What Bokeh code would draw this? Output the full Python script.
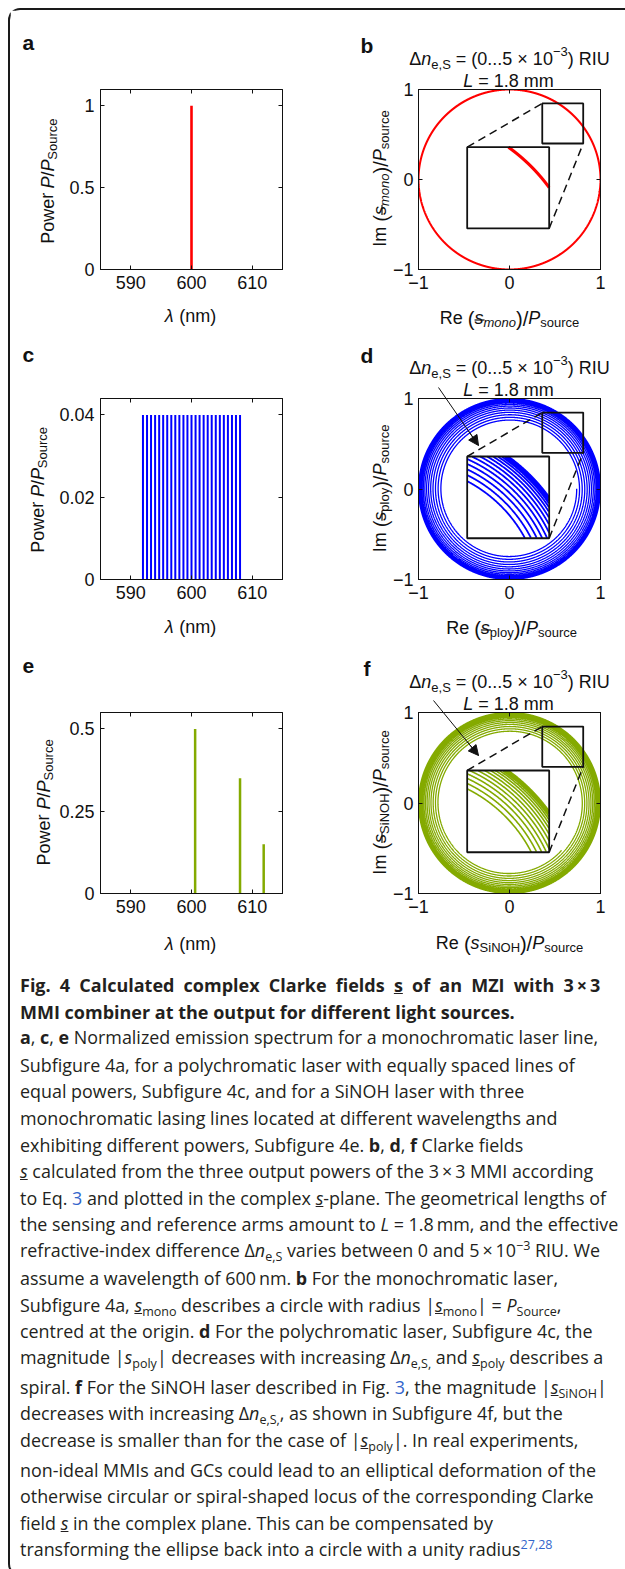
import numpy as np
from bokeh.plotting import figure
from bokeh.models import FixedTicker, LinearAxis, Arrow, NormalHead, Div, ColumnDataSource
from bokeh.core.properties import value
from bokeh.layouts import column, row
from bokeh.embed import file_html
from bokeh.resources import INLINE

# ---------------- values ----------------
lam_mono = [600.0]
pow_mono = [1.0]
lam_poly = [592.0, 592.67, 593.33, 594.0, 594.67, 595.33, 596.0, 596.67, 597.33,
            598.0, 598.67, 599.33, 600.0, 600.67, 601.33, 602.0, 602.67, 603.33,
            604.0, 604.67, 605.33, 606.0, 606.67, 607.33, 608.0]
pow_poly = [0.04, 0.04, 0.04, 0.04, 0.04, 0.04, 0.04, 0.04, 0.04, 0.04, 0.04, 0.04, 0.04,
            0.04, 0.04, 0.04, 0.04, 0.04, 0.04, 0.04, 0.04, 0.04, 0.04, 0.04, 0.04]
lam_sinoh = [600.6, 608.0, 611.9]
pow_sinoh = [0.50, 0.35, 0.15]
arm_length_mm = 1.8          # L
dn_eS = [0.0, 5e-3]          # effective index difference range (RIU)

spec_x_ticks = [590, 600, 610]
spec_x_labels = ["590", "600", "610"]
a_y_ticks = [0, 0.5, 1]
a_y_labels = ["0", "0.5", "1"]
c_y_ticks = [0, 0.02, 0.04]
c_y_labels = ["0", "0.02", "0.04"]
e_y_ticks = [0, 0.25, 0.5]
e_y_labels = ["0", "0.25", "0.5"]
cl_ticks = [-1, 0, 1]
cl_labels = ["\u22121", "0", "1"]

spec_x_range = (585, 615)
a_y_range = (0, 1.1)
c_y_range = (0, 0.044)
e_y_range = (0, 0.55)
cl_range = (-1, 1)

# zoom-inset geometry in the complex plane
zoom_box = (0.36, 0.81, 0.40, 0.845)
zoom_src = (0.36, 0.81, 0.36, 0.81)
inset_box = (-0.465, 0.436, -0.544, 0.359)

RED, BLUE, GREEN = "#ff0000", "#0000ff", "#84aa00"
INK = "#111111"
FONT = "Liberation Sans"
FS = 18

W = {' ': .278, '(': .333, ')': .333, ',': .278, '-': .333, '.': .278, '/': .278, '=': .584,
     '\u00d7': .584, '\u2212': .584, '\u0394': .668, '\u03bb': .52}
for ch in "0123456789":
    W[ch] = .556
W.update(dict(A=.667, B=.667, C=.722, D=.722, E=.667, F=.611, G=.778, H=.722, I=.278, J=.5, K=.667,
              L=.556, M=.833, N=.722, O=.778, P=.667, Q=.778, R=.722, S=.667, T=.611, U=.722, V=.667,
              W=.944, X=.667, Y=.667, Z=.611, a=.556, b=.556, c=.5, d=.556, e=.556, f=.278, g=.556,
              h=.556, i=.222, j=.222, k=.5, l=.222, m=.833, n=.556, o=.556, p=.556, q=.556, r=.333,
              s=.5, t=.278, u=.556, v=.5, w=.722, x=.5, y=.5, z=.5))


def tw(s, size):
    return sum(W.get(ch, .556) for ch in s) * size


class Panel:
    def __init__(self, ox, oy, w, h, L, T, R, B, xr, yr):
        self.L, self.T, self.R, self.B = L, T, R, B
        self.xr, self.yr = xr, yr
        self.p = figure(width=w, height=h, x_range=xr, y_range=yr, output_backend="svg",
                        toolbar_location=None, min_border_left=L - ox, min_border_right=ox + w - R,
                        min_border_top=T - oy, min_border_bottom=oy + h - B)
        self.ul = ([], [], [], [])
        self.tx = dict(x=[], y=[], text=[], angle=[], size=[], style=[])

    def X(self, px):
        return self.xr[0] + (px - self.L) / (self.R - self.L) * (self.xr[1] - self.xr[0])

    def Y(self, py):
        return self.yr[1] - (py - self.T) / (self.B - self.T) * (self.yr[1] - self.yr[0])

    def label(self, px, py, text, size=FS, style="normal", angle=0.0):
        t = self.tx
        t["x"].append(self.X(px)); t["y"].append(self.Y(py)); t["text"].append(text)
        t["angle"].append(angle); t["size"].append(f"{size:.1f}px"); t["style"].append(style)

    def rich(self, pieces, c, base, rotated=False, size=FS):
        widths = [tw(t, size * sc) for (t, st, sc, sh, ul) in pieces]
        pos = -sum(widths) / 2
        for (t, st, sc, sh, ul), w in zip(pieces, widths):
            lead = len(t) - len(t.lstrip(" "))
            start = pos + tw(" " * lead, size * sc)
            body = t.strip(" ")
            bw = tw(body, size * sc)
            if rotated:
                px, py, ang = base + sh, c - start, np.pi / 2
            else:
                px, py, ang = c + start, base + sh, 0.0
            self.label(px, py, body, size * sc, st, ang)
            if ul:
                if rotated:
                    seg = (px + 2.5, py, px + 2.5, py - bw - 1)
                else:
                    seg = (px, py + 2.5, px + bw + 1, py + 2.5)
                self.ul[0].append(self.X(seg[0])); self.ul[1].append(self.Y(seg[1]))
                self.ul[2].append(self.X(seg[2])); self.ul[3].append(self.Y(seg[3]))
            pos += w

    def finish(self):
        if self.ul[0]:
            self.p.segment(x0=self.ul[0], y0=self.ul[1], x1=self.ul[2], y1=self.ul[3],
                           line_color=INK, line_width=1.2, level="overlay")
        src = ColumnDataSource(self.tx)
        self.p.text(x="x", y="y", text="text", angle="angle", text_font_size="size",
                    text_font_style="style", text_font=value(FONT), text_color=INK,
                    text_align="left", text_baseline="alphabetic", source=src, level="overlay")


def axis_common(ax):
    ax.major_tick_in = 4
    ax.major_tick_out = 0
    ax.minor_tick_line_color = None
    ax.axis_line_color = INK
    ax.major_tick_line_color = INK
    ax.major_label_text_font = FONT
    ax.major_label_text_font_size = f"{FS}px"
    ax.major_label_text_color = INK
    ax.major_label_standoff = 6


def style(P, xt, xl, yt, yl):
    p = P.p
    p.xgrid.visible = False
    p.ygrid.visible = False
    p.outline_line_color = INK
    p.background_fill_color = "white"
    p.border_fill_color = "white"
    p.xaxis.ticker = FixedTicker(ticks=xt)
    p.xaxis.major_label_overrides = dict(zip(xt, xl))
    p.yaxis.ticker = FixedTicker(ticks=yt)
    p.yaxis.major_label_overrides = dict(zip(yt, yl))
    axis_common(p.xaxis[0])
    axis_common(p.yaxis[0])
    for ticks, side in ((xt, "above"), (yt, "right")):
        ax = LinearAxis(ticker=FixedTicker(ticks=ticks))
        axis_common(ax)
        ax.major_label_text_color = None
        ax.major_label_text_font_size = "1px"
        ax.major_label_standoff = 0
        p.add_layout(ax, side)


def clarke(lams, pows, n=20000):
    dn = np.linspace(dn_eS[0], dn_eS[1], n)
    L_nm = arm_length_mm * 1e6
    s = np.zeros(n, dtype=complex)
    for lam, pw in zip(lams, pows):
        s += pw * np.exp(1j * 2 * np.pi * L_nm * dn / lam)
    return s / np.sum(pows)


def magnify(s):
    x, y = s.real, s.imag
    inside = (x >= zoom_src[0]) & (x <= zoom_src[1]) & (y >= zoom_src[2]) & (y <= zoom_src[3])
    idx = np.where(inside)[0]
    kx = (inset_box[1] - inset_box[0]) / (zoom_src[1] - zoom_src[0])
    ky = (inset_box[3] - inset_box[2]) / (zoom_src[3] - zoom_src[2])
    X = inset_box[0] + (x[idx] - zoom_src[0]) * kx
    Y = inset_box[2] + (y[idx] - zoom_src[2]) * ky
    br = np.where(np.diff(idx) > 1)[0] + 1
    return np.insert(X, br, np.nan), np.insert(Y, br, np.nan)


def spectrum_panel(P, lams, pows, color, lw, yt, yl, letter, lx, lby, ylab_x, ylab_c, xlab_b):
    P.p.segment(x0=lams, y0=[0] * len(lams), x1=lams, y1=pows, line_color=color, line_width=lw)
    style(P, spec_x_ticks, spec_x_labels, yt, yl)
    P.label(lx, lby, letter, 21, "bold")
    P.rich([("Power ", "normal", 1, 0, 0), ("P", "italic", 1, 0, 0), ("/", "normal", 1, 0, 0),
            ("P", "italic", 1, 0, 0), ("Source", "normal", .72, 5, 0)], ylab_c, ylab_x, rotated=True)
    P.rich([("\u03bb", "italic", 1, 0, 0), (" (nm)", "normal", 1, 0, 0)], 190, xlab_b)
    P.finish()


def clarke_panel(P, s, color, lw_main, lw_inset, letter, lx, lby, sub, sub_style, ylab_c, xlab_c,
                 xlab_b, x_ul, arrow=None):
    p = P.p
    p.line(s.real, s.imag, line_color=color, line_width=lw_main)
    zb, ib = zoom_box, inset_box
    p.quad(left=[zb[0]], right=[zb[1]], bottom=[zb[2]], top=[zb[3]], fill_color=None,
           line_color=INK, line_width=1.8)
    p.quad(left=[ib[0]], right=[ib[1]], bottom=[ib[2]], top=[ib[3]], fill_color="white",
           line_color=None)
    xi, yi = magnify(s)
    p.line(xi, yi, line_color=color, line_width=lw_inset)
    p.quad(left=[ib[0]], right=[ib[1]], bottom=[ib[2]], top=[ib[3]], fill_color=None,
           line_color=INK, line_width=1.8)
    p.segment(x0=[ib[0], ib[1]], y0=[ib[3], ib[2]], x1=[zb[0], zb[1]], y1=[zb[3], zb[2]],
              line_color=INK, line_width=1.5, line_dash="8 5")
    style(P, cl_ticks, cl_labels, cl_ticks, cl_labels)
    P.p.yaxis[0].major_label_standoff = 5
    P.label(lx, lby, letter, 21, "bold")
    P.rich([("\u0394", "normal", 1, 0, 0), ("n", "italic", 1, 0, 0), ("e,S", "normal", .72, 5, 0),
            (" = (0...5 \u00d7 10", "normal", 1, 0, 0), ("\u22123", "normal", .72, -7.5, 0),
            (") RIU", "normal", 1, 0, 0)], 509, P.T - 30.5)
    P.rich([("L", "italic", 1, 0, 0), (" = 1.8 mm", "normal", 1, 0, 0)], 508, P.T - 8.5)

    def lab(prefix, ul):
        return [(prefix + " ", "normal", 1, 0, 0), ("(", "normal", 1.12, 1.5, 0),
                ("s", "italic", 1, 0, ul), (sub, sub_style, .72, 5, 0),
                (")", "normal", 1.12, 1.5, 0), ("/", "normal", 1.12, 1.5, 0),
                ("P", "italic", 1, 0, 0), ("source", "normal", .72, 5, 0)]
    P.rich(lab("Im", 1), ylab_c, 379, rotated=True)
    P.rich(lab("Re", x_ul), xlab_c, xlab_b)
    if arrow:
        x0, y0, x1, y1 = arrow
        p.segment(x0=[P.X(x0)], y0=[P.Y(y0)], x1=[P.X(x1)], y1=[P.Y(y1)],
                  line_color=INK, line_width=1.0, level="overlay")
        f = 0.75
        p.add_layout(Arrow(end=NormalHead(size=10, fill_color=INK, line_color=INK, line_width=1),
                           x_start=P.X(x0 + f * (x1 - x0)), y_start=P.Y(y0 + f * (y1 - y0)),
                           x_end=P.X(x1), y_end=P.Y(y1), line_color=INK, line_width=1.0))
    P.finish()


# ---------------- panels (page coordinates of frames) ----------------
pa = Panel(10, 10, 300, 325, 100, 88, 282, 270, spec_x_range, a_y_range)
pb = Panel(310, 10, 315, 325, 418, 89, 600, 269, cl_range, cl_range)
pc = Panel(10, 335, 300, 315, 100, 397, 282, 579, spec_x_range, c_y_range)
pd = Panel(310, 335, 315, 315, 418, 398, 600, 579, cl_range, cl_range)
pe = Panel(10, 650, 300, 310, 100, 712, 282, 893, spec_x_range, e_y_range)
pf = Panel(310, 650, 315, 310, 418, 712, 600, 893, cl_range, cl_range)

spectrum_panel(pa, lam_mono, pow_mono, RED, 2.6, a_y_ticks, a_y_labels, "a", 22, 40, 47, 181, 317)
spectrum_panel(pc, lam_poly, pow_poly, BLUE, 2.0, c_y_ticks, c_y_labels, "c", 22, 353, 37, 489, 627)
spectrum_panel(pe, lam_sinoh, pow_sinoh, GREEN, 2.5, e_y_ticks, e_y_labels, "e", 22, 665, 43, 802, 943)

s_mono = clarke(lam_mono, pow_mono)
s_poly = clarke(lam_poly, pow_poly)
s_sinoh = clarke(lam_sinoh, pow_sinoh)

clarke_panel(pb, s_mono, RED, 2.0, 3.0, "b", 360, 45, "mono", "italic", 178, 509, 317, 1)
clarke_panel(pd, s_poly, BLUE, 1.3, 1.8, "d", 360, 355, "ploy", "normal", 488, 511, 627, 1,
             arrow=(438, 387, 478, 445))
clarke_panel(pf, s_sinoh, GREEN, 1.3, 1.6, "f", 363, 668, "SiNOH", "normal", 802, 509, 942, 0,
             arrow=(433, 700, 478, 755))

# ---------------- caption ----------------
SUBS = "font-size:70%;vertical-align:-0.3em;line-height:0"
SUPS = "font-size:70%;vertical-align:0.55em;line-height:0"
LINKC = "#3366cc"


def sub(t):
    return f'<span style="{SUBS}">{t}</span>'


def sup(t, color=None):
    c = f"color:{color};" if color else ""
    return f'<span style="{SUPS};{c}">{t}</span>'


S = "<u><i>s</i></u>"
LINK3 = f'<span style="color:{LINKC}">3</span>'
X = "\u2009\u00d7\u2009"

caption_lines = [
    (981.7, "t1", f"Fig. 4 Calculated complex Clarke fields <u>s</u> of an MZI with 3{X}3"),
    (1008.3, "t2", "MMI combiner at the output for different light sources."),
    (1033.3, "", "<b>a</b>, <b>c</b>, <b>e</b> Normalized emission spectrum for a monochromatic laser line,"),
    (1061.0, "", "Subfigure 4a, for a polychromatic laser with equally spaced lines of"),
    (1087.7, "", "equal powers, Subfigure 4c, and for a SiNOH laser with three"),
    (1114.3, "", "monochromatic lasing lines located at different wavelengths and"),
    (1141.0, "", "exhibiting different powers, Subfigure 4e. <b>b</b>, <b>d</b>, <b>f</b> Clarke fields"),
    (1167.7, "", f"{S} calculated from the three output powers of the 3{X}3 MMI according"),
    (1194.3, "", f"to Eq. {LINK3} and plotted in the complex {S}-plane. The geometrical lengths of"),
    (1220.0, "", "the sensing and reference arms amount to <i>L</i> = 1.8\u2009mm, and the effective"),
    (1246.7, "", f"refractive-index difference \u0394<i>n</i>{sub('e,S')} varies between 0 and 5{X}10{sup('&minus;3')} RIU. We"),
    (1274.3, "", "assume a wavelength of 600\u2009nm. <b>b</b> For the monochromatic laser,"),
    (1301.0, "", f"Subfigure 4a, {S}{sub('mono')} describes a circle with radius |{S}{sub('mono')}| = <i>P</i>{sub('Source')},"),
    (1327.7, "", "centred at the origin. <b>d</b> For the polychromatic laser, Subfigure 4c, the"),
    (1353.3, "", f"magnitude |<i>s</i>{sub('poly')}| decreases with increasing \u0394<i>n</i>{sub('e,S,')} and {S}{sub('poly')} describes a"),
    (1383.3, "", f"spiral. <b>f</b> For the SiNOH laser described in Fig. {LINK3}, the magnitude |{S}{sub('SiNOH')}|"),
    (1409.3, "", f"decreases with increasing \u0394<i>n</i>{sub('e,S,')}, as shown in Subfigure 4f, but the"),
    (1436.0, "", f"decrease is smaller than for the case of |{S}{sub('poly')}|. In real experiments,"),
    (1466.0, "", "non-ideal MMIs and GCs could lead to an elliptical deformation of the"),
    (1492.3, "", "otherwise circular or spiral-shaped locus of the corresponding Clarke"),
    (1519.0, "", f"field {S} in the complex plane. This can be compensated by"),
    (1545.0, "", f"transforming the ellipse back into a circle with a unity radius{sup('27,28', LINKC)}"),
]

CAP_TOP = 960
html = ['<div style="position:relative;width:615px;height:604px;font-family:\'Open Sans\',sans-serif;'
        'color:#231f20;">']
for cy, kind, txt in caption_lines:
    top = cy - CAP_TOP - 13.5
    if kind == "t1":
        fw = "font-weight:700;font-size:18px;word-spacing:4.5px;"
    elif kind == "t2":
        fw = "font-weight:700;font-size:18px;"
    else:
        fw = "font-size:17.9px;"
    html.append(f'<div style="position:absolute;left:5px;top:{top:.1f}px;height:24px;'
                f'line-height:24px;white-space:nowrap;{fw}">{txt}</div>')
html.append("</div>")
cap = Div(text="".join(html), width=615, height=604)

layout = column(row(pa.p, pb.p), row(pc.p, pd.p), row(pe.p, pf.p), cap,
                styles={"border-left": "2px solid #1a1a1a", "border-top": "2px solid #1a1a1a",
                        "border-bottom": "2px solid #1a1a1a", "border-top-left-radius": "12px",
                        "border-bottom-left-radius": "12px", "margin-left": "8px",
                        "margin-top": "8px"})

open("out.html", "w").write(file_html(layout, INLINE, title="Fig. 4"))
